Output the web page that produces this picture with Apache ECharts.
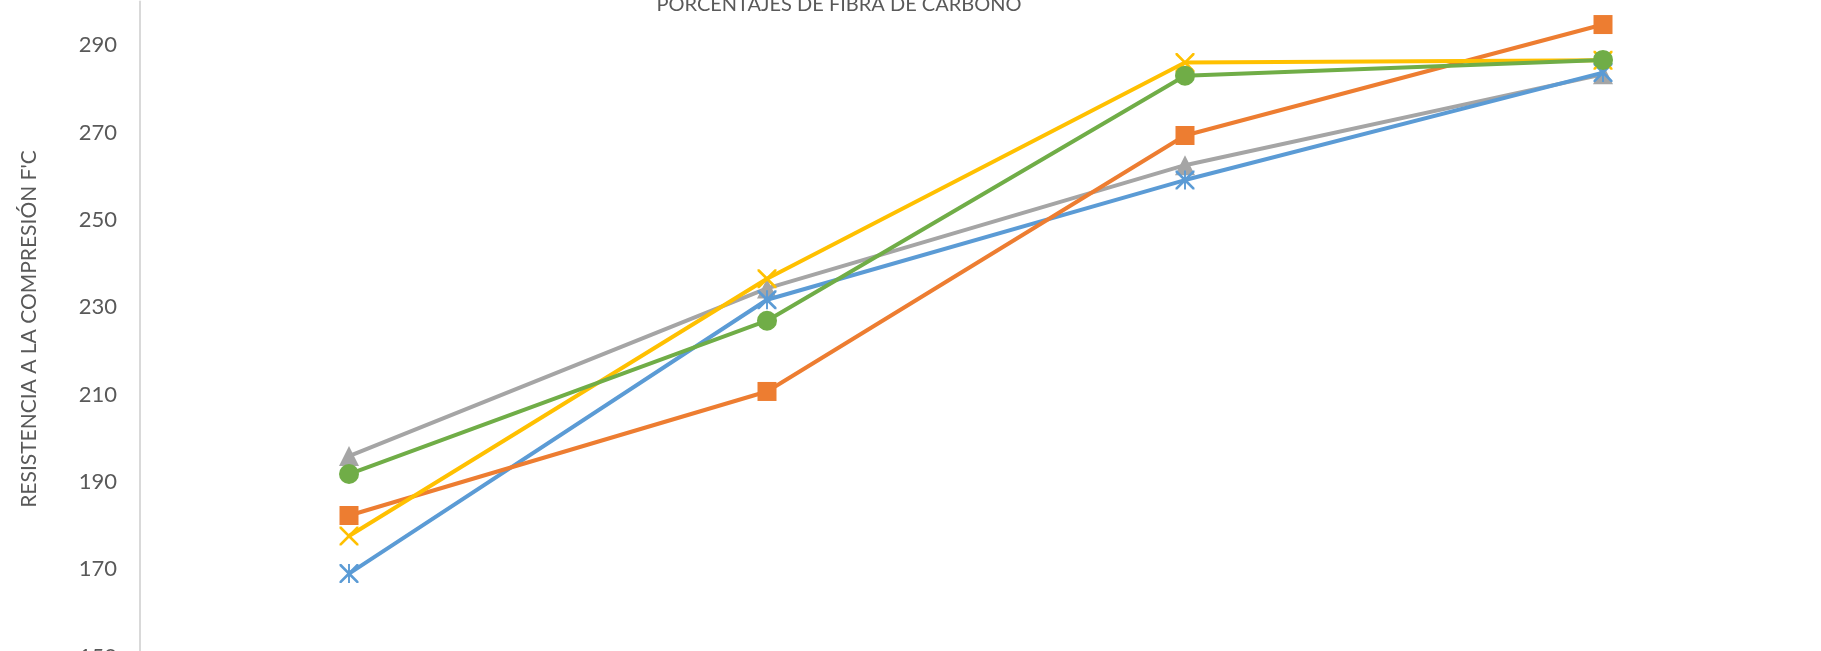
<!DOCTYPE html>
<html>
<head>
<meta charset="utf-8">
<script src="https://cdn.jsdelivr.net/npm/echarts@6/dist/echarts.min.js"></script>
<style>
html,body{margin:0;padding:0;background:#fff;}
#chart{width:1821px;height:651px;}
</style>
</head>
<body>
<div id="chart"></div>
<script>
// Data
var categories = ['1', '2', '3', '4'];
var seriesNames = ['Serie 1', 'Serie 2', 'Serie 3', 'Serie 4', 'Serie 5'];
var blueValues   = [169.0, 231.7, 259.1, 283.7];
var orangeValues = [182.3, 210.7, 269.3, 294.7];
var grayValues   = [195.9, 234.3, 262.5, 283.3];
var yellowValues = [177.6, 236.5, 286.0, 286.5];
var greenValues  = [191.8, 226.9, 283.0, 286.6];
var yTicks = [150, 170, 190, 210, 230, 250, 270, 290];
var titleText = 'PORCENTAJES DE FIBRA DE CARBONO';
var yAxisTitle = "RESISTENCIA A LA COMPRESIÓN F'C";

var FONT = 'Lato, "Open Sans", sans-serif';
var xPath = 'path://M0,0 L2,0 L10,8 L18,0 L20,0 L20,2 L12,10 L20,18 L20,20 L18,20 L10,12 L2,20 L0,20 L0,18 L8,10 L0,2 Z';
var starPath = 'path://M0,0 L2,0 L10,8 L18,0 L20,0 L20,2 L12,10 L20,18 L20,20 L18,20 L10,12 L2,20 L0,20 L0,18 L8,10 L0,2 Z M9,0 L11,0 L11,20 L9,20 Z';

function mkSeries(name, data, color, symbol, size, z) {
  return {
    name: name, type: 'line', data: data, z: z,
    symbol: symbol, symbolSize: size, showSymbol: true,
    lineStyle: { color: color, width: 4 },
    itemStyle: { color: color, borderWidth: 0 },
    emphasis: { disabled: true },
    animation: false
  };
}

var chart = echarts.init(document.getElementById('chart'), null, { renderer: 'canvas' });
chart.setOption({
  backgroundColor: '#ffffff',
  animation: false,
  title: {
    text: titleText, left: 834, top: -10, textAlign: 'center',
    textStyle: { fontFamily: FONT, fontSize: 20, fontWeight: 'normal', color: '#595959' }
  },
  grid: { left: 140, right: 9, top: 1.4, bottom: -5.6, containLabel: false, outerBoundsMode: 'none' },
  xAxis: {
    type: 'category', data: categories, boundaryGap: true,
    axisLine: { show: false }, axisTick: { show: false }, axisLabel: { show: false },
    splitLine: { show: false }
  },
  yAxis: {
    type: 'value', min: 150, max: 300, interval: 20,
    name: yAxisTitle, nameLocation: 'middle', nameGap: 100,
    nameTextStyle: { fontFamily: FONT, fontSize: 21, color: '#595959' },
    axisLine: { show: true, lineStyle: { color: '#D9D9D9', width: 2 } },
    axisTick: { show: false },
    axisLabel: {
      showMaxLabel: false, margin: 23, fontFamily: FONT, fontSize: 22, color: '#595959',
      formatter: function (v) { return yTicks.indexOf(v) >= 0 ? String(v) : ''; }
    },
    splitLine: { show: false }
  },
  series: [
    mkSeries(seriesNames[2], grayValues, '#A5A5A5', 'triangle', 20, 2),
    mkSeries(seriesNames[0], blueValues, '#5B9BD5', starPath, 19, 3),
    mkSeries(seriesNames[1], orangeValues, '#ED7D31', 'rect', 19, 4),
    mkSeries(seriesNames[3], yellowValues, '#FFC000', xPath, 19, 5),
    mkSeries(seriesNames[4], greenValues, '#70AD47', 'circle', 20, 6)
  ]
});
</script>
</body>
</html>
